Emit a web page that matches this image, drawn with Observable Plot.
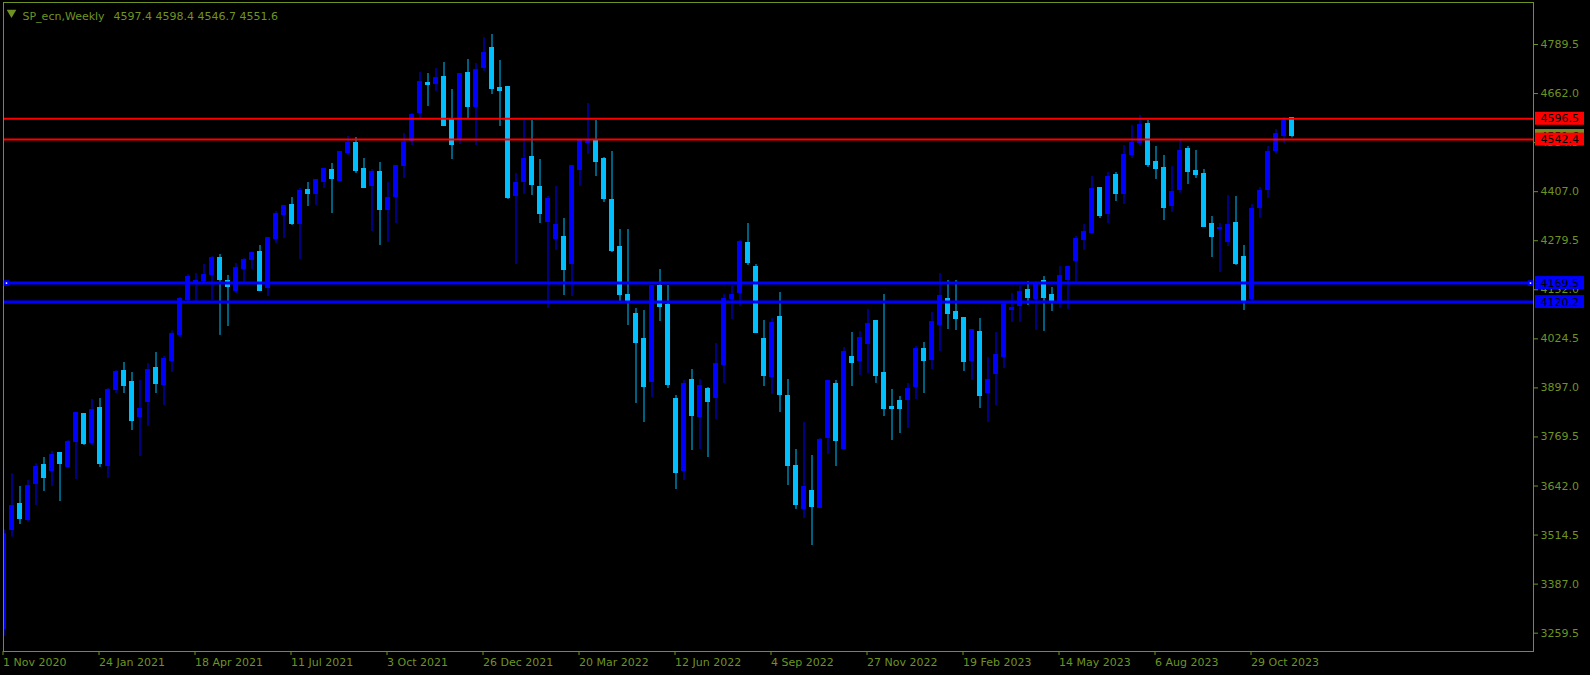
<!DOCTYPE html>
<html><head><meta charset="utf-8">
<script src="https://cdn.jsdelivr.net/npm/d3@7"></script>
<script src="https://cdn.jsdelivr.net/npm/@observablehq/plot@0.6"></script>
<style>html,body{margin:0;padding:0;background:#000;overflow:hidden}</style>
</head><body><div id="chart"></div>
<script>
const symbol = "SP_ecn", period = "Weekly";
const open = [3269.1,3527.3,3594,3552.4,3646,3697.9,3679.8,3729.1,3690.2,3757.7,
3827.9,3755.1,3843.5,3695.3,3890.3,3942.2,3911.1,3820.1,3859.1,3950,
3903.3,3968.2,4035,4125,4170.1,4173.6,4189.2,4233.4,4173.6,4147.6,
4204.8,4228.2,4249,4155.4,4282.8,4345.1,4371.1,4324.3,4410.1,4399.7,
4430.9,4462.1,4433.5,4506.3,4534.8,4464.7,4420.5,4456.9,4358.1,4391.9,
4472.5,4540,4612.8,4688.2,4685.6,4703.8,4594.6,4545.2,4714.2,4625.8,
4729.7,4781.7,4675.2,4677.8,4394.5,4430.9,4498.4,4417.9,4329.5,4285.3,
4290.5,4217.8,4462.1,4534.8,4540,4493.2,4386.6,4264.5,4139.7,4090.3,
4025.4,3913.6,4163.1,4113.7,3869.4,3682.3,3918.8,3820.1,3895.4,3872,
3957.8,4129.3,4144.9,4274.9,4212.5,4025.4,3926.6,4082.5,3877.2,3692.8,
3581,3627.8,3583.6,3768.1,3905.9,3739.5,3978.6,3968.2,4012.4,4069.6,
3934.5,3846.1,3861.7,3864.3,3898.1,3999.4,3970.8,4059.2,4126.8,4093,
4077.4,3968.2,4043.6,3882.5,3931.9,3976.1,4098.2,4108.6,4150.2,4126.8,
4173.6,4137.2,4121.6,4176.2,4225.6,4280.2,4300.9,4415.3,4347.7,4449.1,
4399.7,4501.1,4534.8,4584.2,4482.9,4467.3,4368.5,4410.1,4516.7,4459.5,
4451.7,4324.3,4309.6,4275,4326.9,4236,4126.8,4363.3,4410.1,4514,
4553,4597.4];
const high = [3529,3673.7,3640.8,3656.4,3699.7,3716.2,3731.7,3729.1,3760.3,3833.1,
3830.5,3866.9,3869.5,3895.5,3942.2,3963,3937,3916.3,3960.4,3989,
3978.6,4045,4132,4191,4194.4,4217.8,4238.6,4243.8,4189.2,4220.4,
4233.4,4249,4267.2,4285.4,4355.5,4371.1,4391.9,4415.3,4430.9,4438.7,
4467.3,4480.3,4511.5,4550.4,4547.8,4493.3,4464.7,4482.9,4430.9,4475.1,
4558.2,4610.2,4716.8,4714.2,4727.1,4742.7,4672.6,4711.6,4750.5,4740.1,
4807.7,4815.5,4747.9,4677.8,4454.3,4592,4592,4490.6,4394.5,4420.5,
4337.3,4475.1,4540,4636.2,4592,4495.8,4511.4,4308.7,4308.7,4103.3,
4098.1,4163.1,4204.7,4163.1,3877.2,3916.2,3944.8,3918.8,3898,4012.4,
4139.7,4163.1,4280.1,4324.2,4217.7,4072.2,4077.3,4144.9,3918.8,3736.9,
3807.1,3721.3,3765.5,3913.7,3916.3,4002,4041,4043.6,4100.8,4069.6,
4139.8,3892.9,3874.7,3908.5,4004.6,4015,4093,4194.3,4176.1,4176.1,
4080,4048.8,4077.4,3976.1,4041,4113.8,4142.4,4163.2,4173.6,4173.6,
4186.6,4158,4212.6,4212.6,4290.5,4321.7,4446.5,4417.9,4456.9,4456.9,
4527,4579,4605,4592,4524.5,4501.1,4472.5,4540,4524.5,4514,
4464.7,4342.5,4324.3,4397.1,4394.5,4267.2,4373.7,4417.9,4524.5,4568.6,
4599.8,4598.4];
const low = [3251.8,3509.1,3542,3547.2,3591.4,3627.8,3640.8,3601.8,3690.2,3659,
3747.3,3747.3,3690.2,3661.6,3882.5,3882.5,3786.3,3718.7,3796.7,3882.5,
3851.3,3937,4028,4118,4119.9,4172,4124.2,4033.3,4056.6,4142.4,
4171,4204.8,4147.6,4134.6,4272.4,4285.4,4319.1,4230.8,4368.5,4371.1,
4415.3,4350.3,4433.5,4501.1,4454.3,4415.3,4303.5,4267.2,4275,4324.3,
4441.3,4527,4597.2,4628.4,4667.4,4579,4490.6,4529.6,4597.2,4527,
4719.4,4659.6,4576.4,4386.7,4217.8,4399.7,4397.1,4324.3,4103.4,4254.1,
4137.2,4134.6,4420.5,4503.6,4446.5,4378.8,4248.9,4121.5,4059.2,3856.4,
3807.1,3872,4069.6,3895.4,3632.9,3656.3,3734.3,3736.9,3716.1,3814.9,
3908.4,4074.7,4108.5,4215.1,4041,3900.6,3879.8,3833,3643.3,3581,
3557.6,3487.4,3583.6,3723.9,3692.8,3737,3900.7,3929.3,3934.5,3908.5,
3822.7,3760.3,3778.5,3791.5,3866.9,3882.5,3944.9,3991.6,4048.8,4046.2,
3939.7,3916.3,3843.5,3807.1,3850,3947.5,4067,4067,4111.2,4046.3,
4043.7,4095.6,4103.4,4100.8,4171,4254.2,4300.9,4337.3,4324.3,4381.5,
4373.7,4493.3,4524.5,4469.9,4438.7,4332.1,4352.9,4403,4425.7,4441.3,
4314,4236,4197,4264.6,4215.2,4098.2,4121.6,4337.3,4389.3,4503.7,
4532.2,4546.7];
const close = [3516,3588.8,3555,3640.8,3690.2,3661.6,3723.9,3700.5,3757.7,3830.5,
3752.5,3838.3,3700.5,3890.3,3939.6,3900.7,3809.7,3840.9,3944.8,3905.9,
3973.4,4038.4,4128,4185,4173.6,4189.2,4233.4,4176.2,4158,4207.4,
4228.2,4246.4,4147.6,4285.4,4347.7,4368.5,4324.3,4407.5,4399.7,4436.1,
4464.7,4438.7,4508.9,4534.8,4459.5,4415.3,4456.9,4358.1,4389.3,4472.5,
4537.4,4607.6,4690.8,4683,4701.2,4579,4529.6,4711.6,4625.8,4724.5,
4768.7,4672.6,4667.4,4389.3,4428.3,4493.2,4423.1,4347.7,4386.7,4321.7,
4202.2,4472.5,4540,4540,4485.4,4389.2,4254.1,4139.7,4121.5,4015,
3900.6,4163.1,4108.5,3905.8,3677.1,3908.4,3822.7,3903.2,3861.6,3960.4,
4129.3,4139.7,4277.5,4222.9,4041,3929.2,4066.9,3879.8,3695.3,3591.4,
3638.2,3586.2,3762.9,3913.7,3760.3,3991.6,3963,4028,4061.8,3926.7,
3840.9,3840.9,3840.9,3892.9,3999.4,3968.2,4067,4134.6,4087.8,4074.8,
3965.6,4048.8,3874.7,3916.3,3981.3,4111.2,4103.4,4145,4129.4,4168.4,
4129.4,4121.6,4186.6,4210,4282.8,4303.5,4412.7,4342.5,4443.9,4399.7,
4501.1,4534.8,4581.6,4475.1,4464.7,4363.3,4404.9,4511.5,4456.9,4449.1,
4316.5,4290.5,4311.4,4321.7,4217.8,4121.6,4360.7,4407.5,4508.9,4558.2,
4592,4551.6];

// x-axis ticks: bar index (weeks since first bar) and their labels
const xTickIdx = [0,12,24,36,48,60,72,84,96,108,120,132,144,156];
const xTickLabels = ["1 Nov 2020","24 Jan 2021","18 Apr 2021","11 Jul 2021","3 Oct 2021","26 Dec 2021","20 Mar 2022","12 Jun 2022","4 Sep 2022","27 Nov 2022","19 Feb 2023","14 May 2023","6 Aug 2023","29 Oct 2023"];
const yTicks = [4789.5,4662.0,4534.5,4407.0,4279.5,4152.0,4024.5,3897.0,3769.5,3642.0,3514.5,3387.0,3259.5];
const redLevels = [4596.5, 4542.4];
const blueLevels = [4169.5, 4120.2];
const bidPrice = 4551.6;

const fg = "#6f9322";
const bullColor = "#0000ff", bearColor = "#00bfff";
const redColor = "#ff0000", blueColor = "#0000ff";

const candles = open.map((o, i) => ({i, o, h: high[i], l: low[i], c: close[i]}));
const last = candles[candles.length - 1];
const colorOf = d => d.c >= d.o ? bullColor : bearColor;
const halfBody = 0.3125;

const levelLabels = [
  ...redLevels.map(v => ({v, fill: redColor})),
  ...blueLevels.map(v => ({v, fill: blueColor}))
];

const chart = Plot.plot({
  width: 1590, height: 675,
  marginLeft: 3, marginRight: 57, marginTop: 2, marginBottom: 24,
  style: {background: "#000", color: fg, fontFamily: "'DejaVu Sans', sans-serif", fontSize: "11px"},
  x: {type: "linear", domain: [-0.0625, 191.1875], axis: null, label: null},
  y: {type: "linear", domain: [3211.9, 4898.7], axis: null, label: null},
  marks: [
    Plot.ruleX(candles, {x: "i", y1: "l", y2: "h", stroke: colorOf, strokeWidth: 1, clip: true}),
    Plot.rect(candles, {x1: d => d.i - halfBody, x2: d => d.i + halfBody,
      y1: d => Math.min(d.o, d.c), y2: d => Math.max(d.o, d.c),
      fill: colorOf, insetTop: -0.5, insetBottom: -0.5, clip: true, shapeRendering: "crispEdges"}),
    Plot.ruleY(redLevels, {stroke: redColor, strokeWidth: 2}),
    Plot.ruleY(blueLevels, {stroke: blueColor, strokeWidth: 3}),
    Plot.frame({stroke: fg, shapeRendering: "crispEdges"}),
    Plot.axisX(xTickIdx, {anchor: "bottom", label: null, tickSize: 4, tickPadding: 3, textAnchor: "start", dx: -1,
      stroke: fg, fill: fg, fontSize: 11,
      tickFormat: d => xTickLabels[xTickIdx.indexOf(d)]}),
    Plot.axisY(yTicks, {anchor: "right", label: null, tickSize: 4, tickPadding: 3, stroke: fg, fill: fg, fontSize: 11,
      tickFormat: d => d.toFixed(1)}),
    // bid price label (partly hidden)
    Plot.rect([bidPrice], {y1: d => d, y2: d => d, fill: fg, insetLeft: 1532, insetRight: -51, insetTop: -6.5, insetBottom: -6.5}),
    Plot.text([bidPrice], {y: d => d, text: d => d.toFixed(1), frameAnchor: "right", textAnchor: "start", dx: 7, fill: "#000", fontSize: 11}),
    // level labels
    Plot.rect(levelLabels, {y1: "v", y2: "v", fill: "fill", insetLeft: 1532, insetRight: -51, insetTop: -6.5, insetBottom: -6.5}),
    Plot.text(levelLabels, {y: "v", text: d => d.v.toFixed(1), frameAnchor: "right", textAnchor: "start", dx: 7, fill: "#000", fontSize: 11}),
    // selected-line handles
    Plot.dot([blueLevels[0]], {y: d => d, frameAnchor: "left", dx: 3, symbol: "square", r: 3.2, fill: blueColor}),
    Plot.dot([blueLevels[0]], {y: d => d, frameAnchor: "right", dx: -3, symbol: "square", r: 3.2, fill: blueColor}),
    Plot.dot([blueLevels[0]], {y: d => d, frameAnchor: "left", dx: 3, r: 0.9, fill: "#fff"}),
    Plot.dot([blueLevels[0]], {y: d => d, frameAnchor: "right", dx: -3, r: 0.9, fill: "#fff"}),
    // header
    Plot.dot([0], {frameAnchor: "top-left", dx: 8, dy: 10, symbol: "triangle", rotate: 180, r: 3.6, fill: fg}),
    Plot.text([`${symbol},${period}`], {frameAnchor: "top-left", dx: 19, dy: 10, textAnchor: "start", fill: fg, fontSize: 11}),
    Plot.text([[last.o, last.h, last.l, last.c].map(v => v.toFixed(1)).join(" ")], {frameAnchor: "top-left", dx: 110, dy: 10, textAnchor: "start", fill: fg, fontSize: 11})
  ]
});
document.getElementById("chart").appendChild(chart);
</script></body></html>
